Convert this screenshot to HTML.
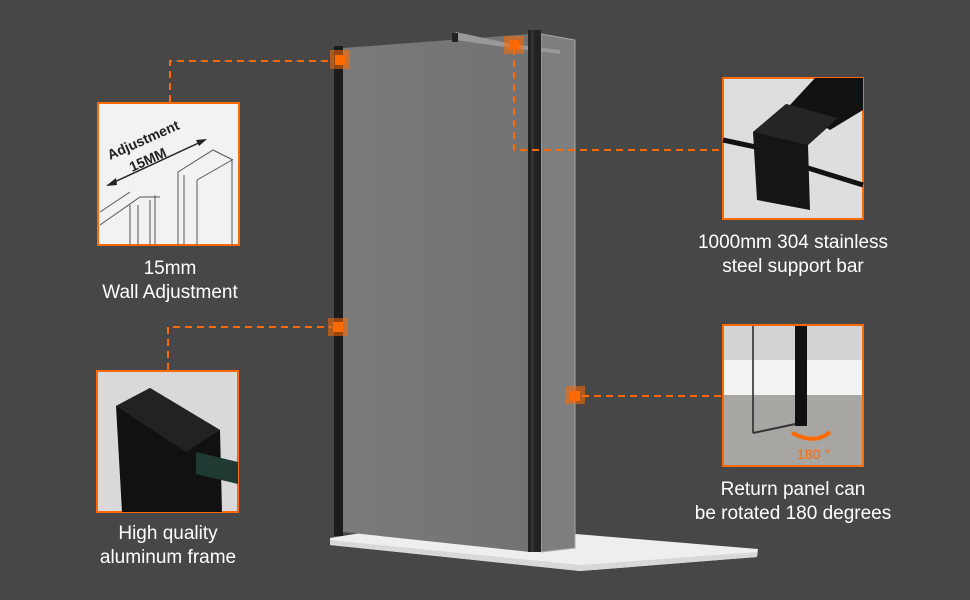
<!DOCTYPE html>
<html><head><meta charset="utf-8"><style>
html,body{margin:0;padding:0;background:#474747;}
body{width:970px;height:600px;overflow:hidden;position:relative;font-family:"Liberation Sans",sans-serif;}
.t{position:absolute;color:#fff;font-size:19px;text-align:center;line-height:24px;}
</style></head><body>
<svg width="970" height="600" style="position:absolute;left:0;top:0">
<defs>
<linearGradient id="g1" x1="0" x2="1"><stop offset="0" stop-color="#7a7a7a"/><stop offset="1" stop-color="#727272"/></linearGradient>
</defs>
<polygon points="330,538 430,522 758,549 757,557 580,571 330,545" fill="#eeeeee"/>
<polygon points="330,540 580,565 757,552 757,557 580,571 330,545" fill="#d8d8d8"/>
<polygon points="343,48 530,34 530,552 343,532" fill="url(#g1)"/>
<polygon points="541,34 575,40 575,548 541,552" fill="#7e7e7e" stroke="#aaa" stroke-width="1"/>
<polygon points="453,36 456,32 512,44 560,50 560,54 512,48 456,40" fill="#999"/>
<rect x="452" y="33" width="6" height="9" fill="#222"/>
<rect x="334" y="46" width="9" height="490" fill="#1c1c1c"/>
<rect x="528" y="30" width="13" height="522" fill="#222"/>
<rect x="531" y="30" width="3" height="522" fill="#333"/>
<g stroke="#ff6a00" stroke-width="2" stroke-dasharray="7,5" fill="none">
<polyline points="170,102 170,61 334,61"/>
<polyline points="514,48 514,150 722,150"/>
<polyline points="168,370 168,327 332,327"/>
<polyline points="582,396 722,396"/>
</g>
<g fill="#ff6a00">
<rect x="330" y="50" width="20" height="19" opacity="0.55"/><rect x="335" y="55" width="10" height="10"/>
<rect x="504" y="36" width="20" height="18" opacity="0.55"/><rect x="509" y="40" width="10" height="10"/>
<rect x="328" y="318" width="20" height="18" opacity="0.55"/><rect x="333" y="322" width="10" height="10"/>
<rect x="565" y="386" width="20" height="18" opacity="0.55"/><rect x="570" y="391" width="10" height="10"/>
</g>
<!-- box1 -->
<rect x="98" y="103" width="141" height="142" fill="#f2f2f2" stroke="#ff6a00" stroke-width="2"/>
<g stroke="#555" stroke-width="1" fill="none">
<polyline points="100,225 140,197 160,197"/>
<polyline points="100,212 130,192"/>
<line x1="130" y1="205" x2="130" y2="245"/><line x1="138" y1="205" x2="138" y2="245"/>
<line x1="150" y1="200" x2="150" y2="245"/><line x1="155" y1="195" x2="155" y2="245"/>
<line x1="178" y1="172" x2="178" y2="245"/><line x1="184" y1="175" x2="184" y2="245"/>
<line x1="197" y1="180" x2="197" y2="245"/><line x1="232" y1="160" x2="232" y2="245"/>
<polyline points="178,172 213,150 233,160"/>
<polyline points="197,180 232,160"/>
</g>
<line x1="108" y1="185" x2="205" y2="140" stroke="#222" stroke-width="1.5"/>
<polygon points="106,186 116,178 117,185" fill="#222"/><polygon points="207,139 196,140 199,146" fill="#222"/>
<text x="110" y="160" font-family="Liberation Sans" font-weight="bold" font-size="14" fill="#222" transform="rotate(-24 110 160)">Adjustment</text>
<text x="132" y="172" font-family="Liberation Sans" font-weight="bold" font-size="14" fill="#222" transform="rotate(-24 132 172)">15MM</text>
<!-- box2 -->
<rect x="97" y="371" width="141" height="141" fill="#d9d9d9" stroke="#ff6a00" stroke-width="2"/>
<polygon points="116,406 150,388 220,430 222,512 122,512" fill="#111"/>
<polygon points="116,406 150,388 220,430 186,452" fill="#222"/>
<polygon points="196,452 238,462 238,484 196,474" fill="#1f3a33"/>
<!-- box3 -->
<rect x="723" y="78" width="140" height="141" fill="#dedede" stroke="#ff6a00" stroke-width="2"/>
<polygon points="790,105 815,78 863,78 863,110 830,130" fill="#111"/>
<line x1="723" y1="140" x2="770" y2="150" stroke="#111" stroke-width="5"/>
<line x1="808" y1="168" x2="863" y2="185" stroke="#111" stroke-width="5"/>
<polygon points="753,132 786,104 838,118 808,145 810,210 757,200" fill="#151515"/>
<polygon points="753,132 786,104 838,118 808,145" fill="#252525"/>
<!-- box4 -->
<rect x="723" y="325" width="140" height="141" fill="#d3d3d3" stroke="#ff6a00" stroke-width="2"/>
<rect x="724" y="360" width="138" height="35" fill="#f3f3f3"/>
<rect x="724" y="395" width="138" height="70" fill="#a8a6a2"/>
<line x1="753" y1="326" x2="753" y2="433" stroke="#222" stroke-width="1.5"/>
<line x1="753" y1="433" x2="800" y2="423" stroke="#333" stroke-width="2"/>
<rect x="795" y="326" width="12" height="100" fill="#111"/>
<path d="M830,432 Q815,445 792,433" stroke="#ff6a00" stroke-width="4" fill="none"/>
<text x="797" y="459" font-family="Liberation Sans" font-size="14" fill="#ff6a00">180 °</text>
</svg>
<div class="t" style="left:70px;top:257px;width:200px">15mm<br>Wall Adjustment</div>
<div class="t" style="left:68px;top:522px;width:200px">High quality<br>aluminum frame</div>
<div class="t" style="left:673px;top:231px;width:240px">1000mm 304 stainless<br>steel support bar</div>
<div class="t" style="left:673px;top:478px;width:240px">Return panel can<br>be rotated 180 degrees</div>
</body></html>
